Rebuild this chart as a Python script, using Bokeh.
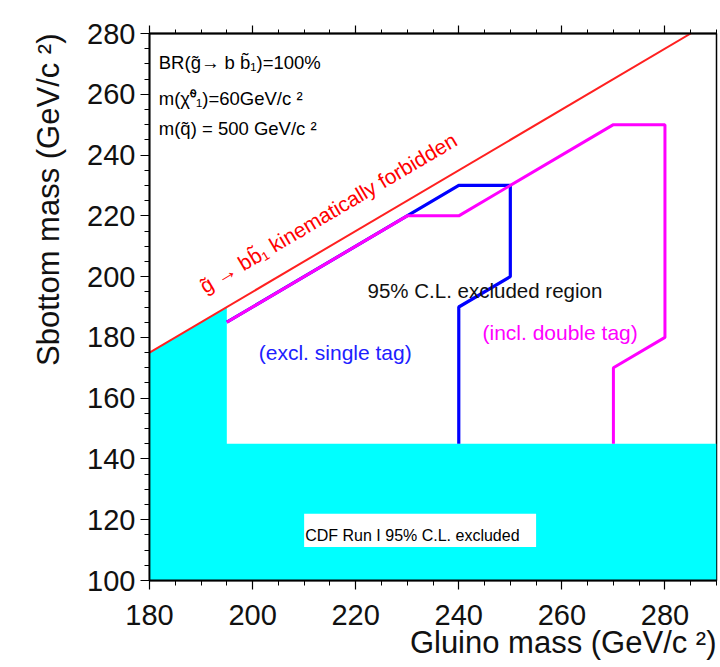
import math

from bokeh.plotting import figure
from bokeh.models import (Range1d, LinearAxis, SingleIntervalTicker, Label,
                          CustomJSTickFormatter, Title)
from bokeh.embed import file_html
from bokeh.resources import INLINE

# Kinematic limit: m(sbottom) = m(gluino) - m(b)
limit_gluino = [180, 285]
limit_sbottom = [175, 280]

# CDF Run I excluded area (filled)
cdf_gluino = [180, 180, 195, 195, 290, 290]
cdf_sbottom = [100, 175, 190, 145, 145, 100]

# 95% C.L. contour, exclusive single tag
single_gluino = [195, 240, 250, 250, 240, 240]
single_sbottom = [185, 230, 230, 200, 190, 145]

# 95% C.L. contour, inclusive double tag
double_gluino = [195, 230, 240, 270, 280, 280, 270, 270]
double_sbottom = [185, 220, 220, 250, 250, 180, 170, 145]

# white caption box inside the CDF area
box_gluino = [210, 255]
box_sbottom = [111, 122]

X_RANGE = (180, 290)
Y_RANGE = (100, 280)

W, H = 720, 667
LEFT, RIGHT, TOP, BOTTOM = 149, 4, 33, 87
FRAME_W = W - LEFT - RIGHT
FRAME_H = H - TOP - BOTTOM

FONT = "Liberation Sans"

p = figure(
    width=W, height=H,
    x_range=Range1d(*X_RANGE), y_range=Range1d(*Y_RANGE),
    output_backend="svg", toolbar_location=None,
    min_border_left=LEFT, min_border_right=RIGHT,
    min_border_top=TOP, min_border_bottom=BOTTOM,
    x_axis_location=None, y_axis_location=None,
)
p.grid.visible = False
p.background_fill_color = "white"
p.border_fill_color = "white"
p.outline_line_color = "black"
p.outline_line_width = 1.5


def styled_axis(axis):
    axis.ticker = SingleIntervalTicker(interval=20, num_minor_ticks=4)
    axis.axis_line_color = "black"
    axis.axis_line_width = 1.8
    axis.major_tick_line_color = "black"
    axis.minor_tick_line_color = "black"
    axis.major_tick_line_width = 1.2
    axis.minor_tick_line_width = 1.0
    axis.major_tick_in = 0
    axis.minor_tick_in = 0
    axis.major_tick_out = 9
    axis.minor_tick_out = 5
    axis.major_label_text_font = FONT
    axis.major_label_text_font_size = "29px"
    axis.major_label_text_color = "#111111"
    return axis


xaxis = styled_axis(LinearAxis())
xaxis.major_label_standoff = 15
p.add_layout(xaxis, "below")

yaxis = styled_axis(LinearAxis())
yaxis.major_label_standoff = 5
p.add_layout(yaxis, "left")

topaxis = styled_axis(LinearAxis())
topaxis.major_tick_out = 8
topaxis.minor_tick_out = 4
topaxis.formatter = CustomJSTickFormatter(code="return ''")
topaxis.major_label_standoff = 0
p.add_layout(topaxis, "above")

# axis titles, flush with the upper end of each axis
p.add_layout(Title(text="Gluino mass (GeV/c \u00b2)", align="right",
                   text_font=FONT, text_font_size="31px",
                   text_font_style="normal", text_color="#111111",
                   standoff=-9), "below")
p.add_layout(Title(text="Sbottom mass (GeV/c \u00b2)", align="right",
                   text_font=FONT, text_font_size="31px",
                   text_font_style="normal", text_color="#111111",
                   standoff=37), "left")

# CDF Run I exclusion
p.patch(cdf_gluino, cdf_sbottom, fill_color="#00FFFF", line_color=None)
p.quad(left=box_gluino[0], right=box_gluino[1],
       bottom=box_sbottom[0], top=box_sbottom[1],
       fill_color="white", line_color=None)

# kinematic limit
p.line(limit_gluino, limit_sbottom, line_color="#FF2020", line_width=2)

# excluded contours
p.line(single_gluino, single_sbottom, line_color="#0000FF", line_width=3.2)
p.line(double_gluino, double_sbottom, line_color="#FF00FF", line_width=3)


def add_text(text, x, y, size, color="black", align="left", angle=0.0,
             baseline="alphabetic"):
    p.add_layout(Label(
        x=x, y=y, text=text, text_font=FONT, text_font_size=size,
        text_color=color, text_align=align, text_baseline=baseline,
        angle=angle,
    ))


# parameter block
add_text("BR(g\u0303\u2192 b b\u0303\u2081)=100%", 181.8, 270.5, "18.5px")
add_text("m(\u03c7\u0303\u2070\u2081)=60GeV/c\u00a0\u00b2", 181.8, 258.6, "18.5px")
add_text("m(q\u0303) = 500 GeV/c\u00a0\u00b2", 181.8, 248.8, "18.5px")

# label along the kinematic limit
slope_angle = math.atan2(FRAME_H / (Y_RANGE[1] - Y_RANGE[0]),
                         FRAME_W / (X_RANGE[1] - X_RANGE[0]))
add_text("g\u0303 \u2192 bb\u0303\u2081 kinematically forbidden", 190.1, 196.4,
         "21px", color="#FF0000", angle=slope_angle)

add_text("95% C.L. excluded region", 222.3, 195.5, "20.5px", color="#111111")
add_text("(excl. single tag)", 201.2, 175.1, "21px", color="#2020FF")
add_text("(incl. double tag)", 244.6, 181.6, "21px", color="#FF00FF")
add_text("CDF Run I 95% C.L. excluded", 231.0, 114.7, "16px",
         color="black", align="center")

open("out.html", "w").write(file_html(p, INLINE))
